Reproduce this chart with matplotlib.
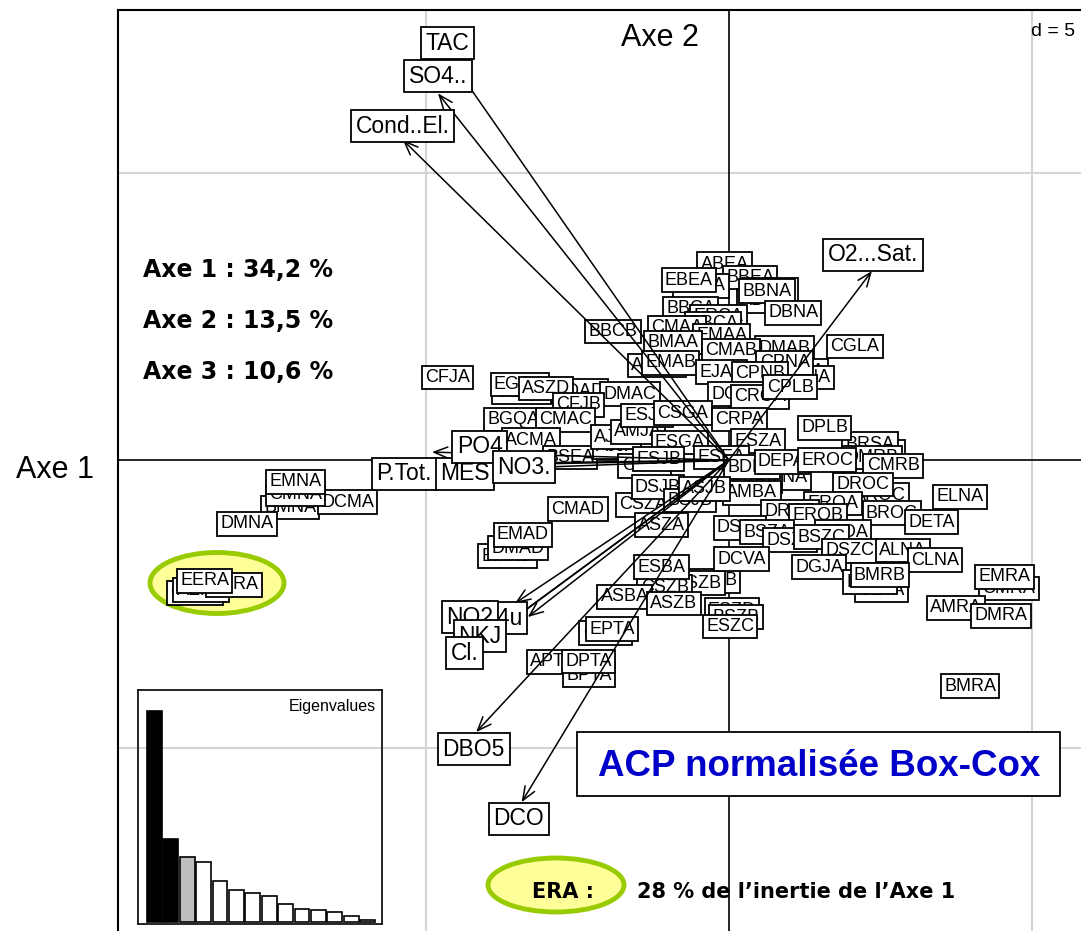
import numpy as np
import matplotlib
matplotlib.use("Agg")
import matplotlib.pyplot as plt
from matplotlib.patches import Ellipse, Rectangle

# ---- data (factor map coordinates, d = 5 grid) ----
site_names = ['ABEA', 'BBEA', 'CBEA', 'EBEA', 'ABNA', 'CBNA', 'BBNA', 'DBNA', 'BBCA', 'ERCA',
              'DBCA', 'BBCB', 'CMAA', 'EMAA', 'BMAA', 'DMAB', 'CMAB', 'CGLA', 'BPNA', 'EPNA',
              'CPNA', 'AMAB', 'EMAB', 'EJAA', 'CPNB', 'DGBA', 'CROA', 'CPLB', 'CFJA', 'CGQA',
              'EGQA', 'BDAD', 'DMAC', 'ASZD', 'CFJB', 'BGQA', 'CMAC', 'ACMA', 'BSEA', 'AJJA',
              'AJPA', 'AMJA', 'ESJA', 'CSGA', 'CRPA', 'CGSA', 'BRSA', 'DPLB', 'ESZA', 'CPJB',
              'ESGA', 'ESEA', 'ESJB', 'DPNA', 'EPBA', 'AMBA', 'BDEA', 'DEPA', 'DMRB', 'CMRB',
              'EROC', 'AROC', 'DROC', 'ELNA', 'EROA', 'DROB', 'EROB', 'BROC', 'DETA', 'CSDA',
              'DSJA', 'BSZA', 'DSZA', 'BSZC', 'DSZC', 'ALNA', 'CLNA', 'DGJA', 'CETA', 'DLNA',
              'BMRB', 'CMRA', 'EMRA', 'AMRA', 'DMRA', 'BMRA', 'ESZD', 'BSZB', 'ESZC', 'DSZB',
              'ESZB', 'CSZB', 'ASBA', 'ASZB', 'ESBA', 'DCVA', 'CPTA', 'EPTA', 'APTA', 'BPTA',
              'DPTA', 'CSZA', 'ASZA', 'DSJB', 'BSJB', 'ASJB', 'CMAD', 'BMAD', 'DMAD', 'EMAD',
              'BMNA', 'DCMA', 'CMNA', 'EMNA', 'DMNA', 'CERA', 'AERA', 'DERA', 'EERA']
site_x = [-0.07, 0.35, -0.46, -0.66, 0.59, 0.68, 0.63, 1.06, -0.63, -0.17,
          -0.26, -1.91, -0.86, -0.12, -0.92, 0.92, 0.03, 2.08, 1.17, 1.27,
          0.92, -1.19, -0.96, -0.12, 0.51, 0.13, 0.51, 1.01, -4.64, -3.42,
          -3.45, -2.46, -1.63, -3.02, -2.48, -3.56, -2.69, -3.27, -2.62, -1.85,
          -1.86, -1.50, -1.35, -0.76, 0.18, 2.43, 2.33, 1.58, 0.48, -1.39,
          -0.81, -0.12, -1.16, 0.89, 0.43, 0.38, 0.38, 0.87, 2.36, 2.71,
          1.62, 2.49, 2.21, 3.81, 1.72, 1.01, 1.47, 2.69, 3.35, 1.88,
          0.18, 0.63, 1.01, 1.53, 2.00, 2.87, 3.40, 1.49, 2.52, 2.33,
          2.49, 4.62, 4.55, 3.75, 4.49, 3.98, 0.05, 0.12, 0.02, -0.26,
          -0.51, -1.06, -1.72, -0.91, -1.11, 0.21, -2.03, -1.93, -2.90, -2.31,
          -2.31, -1.42, -1.11, -1.17, -0.64, -0.40, -2.49, -3.65, -3.48, -3.40,
          -7.24, -6.29, -7.15, -7.15, -7.95, -8.81, -8.71, -8.17, -8.65]
site_y = [3.41, 3.18, 3.03, 3.13, 2.77, 2.97, 2.94, 2.56, 2.64, 2.50,
          2.37, 2.24, 2.31, 2.16, 2.05, 1.95, 1.91, 1.98, 1.55, 1.44,
          1.69, 1.65, 1.69, 1.53, 1.50, 1.15, 1.10, 1.27, 1.44, 1.18,
          1.32, 1.20, 1.15, 1.25, 0.96, 0.71, 0.70, 0.35, 0.05, 0.23,
          0.40, 0.49, 0.78, 0.82, 0.71, 0.14, 0.28, 0.56, 0.33, -0.10,
          0.31, 0.05, 0.02, -0.31, -0.37, -0.57, -0.12, -0.03, 0.05, -0.10,
          0.00, -0.61, -0.42, -0.64, -0.75, -0.90, -0.97, -0.92, -1.08, -1.25,
          -1.18, -1.25, -1.39, -1.34, -1.58, -1.57, -1.74, -1.86, -2.26, -2.12,
          -2.00, -2.23, -2.03, -2.57, -2.71, -3.93, -2.61, -2.73, -2.89, -2.10,
          -2.14, -2.21, -2.38, -2.49, -1.86, -1.72, -3.01, -2.94, -3.51, -3.74,
          -3.50, -0.78, -1.13, -0.47, -0.70, -0.50, -0.85, -1.67, -1.53, -1.30,
          -0.82, -0.73, -0.59, -0.38, -1.11, -2.31, -2.26, -2.17, -2.10]

var_names = ['TAC', 'SO4..', 'Cond..El.', 'O2...Sat.', 'MES', 'P.Tot.', 'PO4', 'NO3.',
             'NH4u', 'NO2', 'NKJ', 'Cl.', 'DBO5', 'DCO']
var_x = [-4.59, -4.80, -5.38, 2.36, -4.27, -4.77, -4.90, -3.45,
         -3.32, -3.53, -3.70, -4.14, -4.17, -3.42]
var_y = [6.96, 6.38, 5.57, 3.29, -0.17, -0.10, 0.14, -0.05,
         -2.73, -2.49, -2.87, -3.22, -4.73, -5.95]
var_lab_x = [-4.65, -4.80, -5.38, 2.38, -4.36, -5.36, -4.11, -3.38,
             -3.89, -4.27, -4.11, -4.36, -4.21, -3.47]
var_lab_y = [7.25, 6.68, 5.81, 3.57, -0.24, -0.24, 0.23, -0.12,
             -2.75, -2.73, -3.06, -3.36, -5.03, -6.24]

eigenvalues = [4.79, 1.89, 1.48, 1.37, 0.93, 0.72, 0.65, 0.58, 0.42, 0.30, 0.28, 0.23, 0.14, 0.05]
inertia_text = ['Axe 1 : 34,2 %', 'Axe 2 : 13,5 %', 'Axe 3 : 10,6 %']

W, H = 1081, 931
fig = plt.figure(figsize=(W / 100, H / 100), dpi=100)

# main axes: frame starts at px (118, 10) and runs off the right / bottom edges
ax = fig.add_axes([118 / W, 0, 1 - 118 / W, 1 - 10 / H])
ax.set_xlim(-10.08, 5.81)
ax.set_ylim(-8.19, 7.83)
ax.set_xticks([])
ax.set_yticks([])
for s in ['right', 'bottom']:
    ax.spines[s].set_visible(False)
for s in ['top', 'left']:
    ax.spines[s].set_linewidth(1.5)

for gx in [-5, 5]:
    ax.axvline(gx, color='#d4d4d4', lw=1.5, zorder=0.5)
for gy in [-5, 5]:
    ax.axhline(gy, color='#d4d4d4', lw=1.5, zorder=0.5)
ax.axvline(0, color='black', lw=1.2, zorder=1)
ax.axhline(0, color='black', lw=1.2, zorder=1)

# highlight ellipse around the ERA sites
ax.add_patch(Ellipse((217 / W, 1 - 583 / H), 134 / W, 61 / H, transform=fig.transFigure,
                     facecolor='#ffff99', edgecolor='#99cc00', lw=3.5, zorder=1.5))

# site labels
for name, x, y in zip(site_names, site_x, site_y):
    ax.text(x, y, name, ha='center', va='center', fontsize=13, family='Liberation Sans',
            zorder=2, bbox=dict(boxstyle='square,pad=0.18', fc='white', ec='black', lw=1.3))

# variable arrows
for x, y in zip(var_x, var_y):
    ax.annotate('', xy=(x, y), xytext=(0, 0), zorder=3,
                arrowprops=dict(arrowstyle='->,head_length=0.55,head_width=0.22',
                                mutation_scale=18, lw=1.1, color='black',
                                shrinkA=0, shrinkB=0))
for name, x, y in zip(var_names, var_lab_x, var_lab_y):
    ax.text(x, y, name, ha='center', va='center', fontsize=16.5, family='Liberation Sans',
            zorder=4, bbox=dict(boxstyle='square,pad=0.2', fc='white', ec='black', lw=1.3))

# axis titles and scale
fig.text(660 / W, 1 - 38 / H, 'Axe 2', ha='center', va='center', fontsize=22,
         family='Liberation Sans')
fig.text(55 / W, 1 - 470 / H, 'Axe 1', ha='center', va='center', fontsize=22,
         family='Liberation Sans')
fig.text(1053 / W, 1 - 31 / H, 'd = 5', ha='center', va='center', fontsize=14,
         family='Liberation Sans')

for i, t in enumerate(inertia_text):
    fig.text(143 / W, 1 - (270 + 51 * i) / H, t, ha='left', va='center', fontsize=17,
             fontweight='bold', family='DejaVu Sans')

# title box
fig.add_artist(Rectangle((577 / W, 1 - 796 / H), 483 / W, 64 / H, transform=fig.transFigure,
                         facecolor='white', edgecolor='black', lw=1.3, zorder=6))
fig.text(819 / W, 1 - 766 / H, 'ACP normalisée Box-Cox', ha='center', va='center',
         fontsize=26.5, fontweight='bold', color='#0000c8', family='Liberation Sans', zorder=7)

# ERA note
ax.add_patch(Ellipse((556 / W, 1 - 885 / H), 136 / W, 54 / H, transform=fig.transFigure,
                     facecolor='#ffff99', edgecolor='#99cc00', lw=3.5, zorder=5))
fig.text(563 / W, 1 - 892 / H, 'ERA :', ha='center', va='center', fontsize=15,
         fontweight='bold', family='DejaVu Sans', zorder=7)
fig.text(637 / W, 1 - 892 / H, '28 % de l\u2019inertie de l\u2019Axe 1', ha='left', va='center',
         fontsize=15, fontweight='bold', family='DejaVu Sans', zorder=7)

# eigenvalues inset
ins = fig.add_axes([138 / W, 7 / H, 244 / W, 234 / H])
ins.patch.set_alpha(0)
cols = ['black', 'black', '#bebebe'] + ['white'] * (len(eigenvalues) - 3)
ins.bar(np.arange(len(eigenvalues)), eigenvalues, width=0.9, color=cols,
        edgecolor='black', lw=1.2)
ins.set_xlim(-1.0, 13.88)
ins.set_ylim(-0.045, 5.27)
ins.set_xticks([])
ins.set_yticks([])
for s in ins.spines.values():
    s.set_linewidth(1.2)
ins.text(0.975, 0.96, 'Eigenvalues', transform=ins.transAxes, ha='right', va='top',
         fontsize=11.5, family='Liberation Sans')

plt.savefig('out.png', dpi=100)
